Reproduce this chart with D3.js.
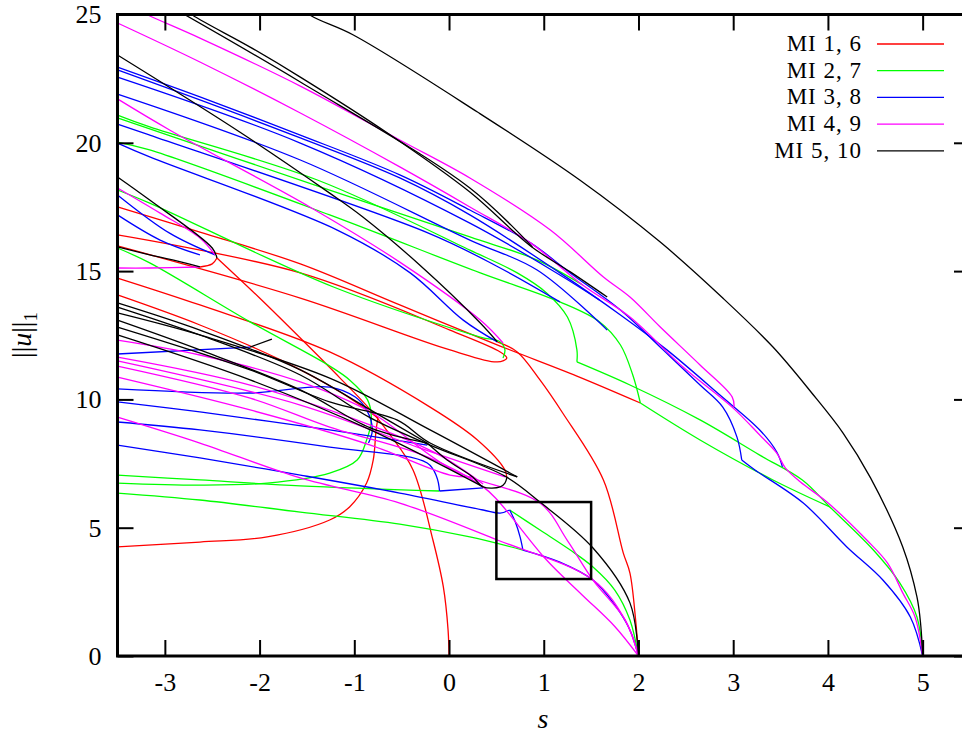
<!DOCTYPE html>
<html>
<head>
<meta charset="utf-8">
<script src="https://cdn.jsdelivr.net/npm/d3@7"></script>
<style>
  body { margin: 0; background: #fff; }
  svg text { font-family: "Liberation Serif", "DejaVu Serif", serif; }
</style>
</head>
<body>
<svg width="962" height="733"></svg>
<script>
// axis setup
const sDomain = [-3.5, 5.5];
const nDomain = [0, 25];
const xTicks = [-3, -2, -1, 0, 1, 2, 3, 4, 5];
const yTicks = [0, 5, 10, 15, 20, 25];
const legendLabels = ["MI 1, 6", "MI 2, 7", "MI 3, 8", "MI 4, 9", "MI 5, 10"];
const miColors = ["#ff0000", "#00ff00", "#0000ff", "#ff00ff", "#000000"];
const zoomBox = [[0.5, 3], [1.5, 6]];

// ---- MI 1, 6 (red) ----
const r1 = [[-2.45,15.51],[-2.00,13.95],[-1.57,12.39],[-1.15,10.83],[-0.83,9.59],[-0.62,8.61],[-0.38,7.25],[-0.17,4.52],[-0.06,2.69],[-0.01,1.01],[0,0]];
const rFold = [[-2.45,15.51],[-2.50,15.28],[-2.63,15.16]];
const r2 = [[-3.5,17.50],[-2.63,16.52],[-1.57,15.28],[-0.52,13.68],[0.54,12.08],[1.35,10.91],[2.02,9.86]];
const r3 = [[-3.5,16.41],[-1.57,14.93],[0.01,12.70],[0.54,11.85],[0.61,11.61],[0.51,11.46],[0.01,11.93],[-1.57,13.95],[-3.5,15.98]];
const r4 = [[-3.5,14.73],[-2.63,13.68],[-1.26,11.85],[-0.20,9.70],[0.30,8.42],[0.59,7.25],[0.61,6.94]];
const r7 = [[-3.5,14.07],[-2.63,12.90],[-1.78,11.54],[-1.15,10.29],[-0.75,9.28]];
const c1 = [[-3.5,4.25],[-2.63,4.44],[-1.92,4.64],[-1.26,5.30],[-1.05,5.81],[-0.87,6.74],[-0.80,7.64],[-0.77,8.81],[-0.75,9.28]];
const rS2 = [[0.51,12.24],[0.72,11.85],[0.96,10.76],[1.20,9.47],[1.63,6.86],[1.84,4.01],[1.91,3.23],[1.97,1.40],[2.0,0]];

// ---- MI 2, 7 (green) ----
const g1 = [[-3.5,6.35],[-2.63,6.08],[-1.57,5.61],[-0.52,5.14],[0.22,4.64],[0.78,4.13]];
const g2 = [[0.64,5.69],[0.96,4.91],[1.28,4.13],[1.52,3.47],[1.75,2.57],[1.91,1.40],[2.0,0]];
const g3 = [[-3.5,6.74],[-2.63,6.66],[-1.92,6.74],[-1.26,7.13],[-0.97,7.64],[-0.87,8.42],[-0.82,9.20],[-0.86,9.98],[-1.05,10.76],[-1.26,11.30],[-2.10,13.02],[-3.16,15.32],[-3.5,15.90]];
const g4 = [[-3.5,7.05],[-2.63,6.86],[-1.57,6.63],[-0.10,6.43]];
const g5 = [[-3.5,21.08],[-3.16,20.62],[-1.39,18.55],[0.22,15.82],[0.72,14.93],[1.03,14.15],[1.25,13.21],[1.35,11.93],[1.35,11.46]];
const g5b = [[1.35,11.46],[1.91,10.56],[2.65,9.20],[3.28,7.83],[3.73,6.86],[4.02,5.81],[4.48,4.13],[4.76,2.84],[4.94,1.52],[5.0,0]];
const g6 = [[-3.5,20.97],[-1.26,18.16],[0.22,16.33],[0.93,15.43],[1.41,14.46]];
const g7 = [[-3.5,20.03],[-3.16,19.72],[-1.26,17.19],[0.33,14.93],[1.17,13.80],[1.59,13.02],[1.81,12.12],[1.94,10.95],[2.02,9.86]];
const g7b = [[2.02,9.86],[2.65,8.42],[3.42,6.86],[4.02,5.81]];
const g8 = [[-3.5,18.16],[-3.16,17.65],[-1.22,14.38],[0.33,12.43],[0.54,12.24],[0.59,11.93],[0.57,11.61]];

// ---- MI 3, 8 (blue) ----
const b1 = [[-3.5,22.95],[-2.63,21.79],[-1.57,20.30],[-0.52,18.75],[0.22,17.38],[0.86,16.10],[1.28,14.93],[1.81,13.48],[2.26,11.93],[2.65,10.56],[2.89,9.70],[3.04,8.53],[3.09,7.64]];
const bS5 = [[3.09,7.64],[3.23,7.25],[3.74,5.96],[4.20,4.25],[4.58,2.96],[4.87,1.52],[5.0,0]];
const b2 = [[-3.5,22.84],[-2.63,21.67],[-1.57,20.19],[-0.52,18.63],[0.22,17.19],[1.17,14.93],[1.81,13.29],[2.30,11.93],[2.86,10.17],[3.28,8.81],[3.46,7.95],[3.52,7.37]];
const b3 = [[-3.5,22.56],[-1.57,19.99],[0.22,16.87],[1.17,14.85],[1.59,13.87]];
const b4 = [[-3.5,21.90],[-1.57,19.33],[0.22,16.21],[0.93,15.04],[1.67,12.70]];
const b5 = [[-3.5,20.73],[-3.16,20.30],[-0.23,16.50],[0.50,15.20],[1.17,13.80]];
const bF2 = [[-3.5,19.99],[-3.16,19.45],[-1.18,16.60],[-0.41,14.93],[0.15,13.09],[0.51,12.24]];
const b11 = [[-3.5,17.97],[-2.95,16.48],[-2.47,15.63]];
const b12 = [[-3.5,17.19],[-3.05,16.21],[-2.63,15.63]];
const b6 = [[-3.5,11.77],[-2.10,12.04]];
const b7 = [[-3.5,10.41],[-2.10,10.25],[-1.26,10.48],[-0.99,10.09],[-0.87,9.59],[-0.81,8.81],[-0.85,8.30]];
const b8 = [[-3.5,9.90],[-2.63,9.51],[-1.26,8.81],[-0.23,8.22]];
const b10 = [[-3.5,9.12],[-2.63,8.81],[-1.26,8.14],[-0.23,7.52],[-0.13,6.98],[-0.10,6.43]];
const bG4 = [[-0.10,6.43],[0.36,6.55]];
const bThick = [[-3.5,8.22],[-2.63,7.72],[-1.57,7.05],[-0.52,6.35],[0.36,5.69],[0.54,5.57],[0.64,5.69]];
const bFold = [[0.64,5.69],[0.70,5.22],[0.75,4.64],[0.78,4.13]];
const bLow = [[0.78,4.13],[1.17,3.66],[1.52,2.96],[1.75,1.99],[1.91,1.01],[2.0,0]];

// ---- MI 4, 9 (magenta) ----
const m1 = [[-3.35,25.3],[-3.18,24.98],[-2.63,24.08],[-1.57,22.21],[-0.52,20.11],[0.22,18.63],[1.07,16.60],[1.63,14.77],[1.91,13.99],[2.23,12.82],[2.65,11.34],[2.99,10.09],[3.01,9.70]];
const m2 = [[-3.5,24.67],[-2.63,23.15],[-1.57,21.16],[-0.52,19.06],[0.22,17.50],[0.86,16.10],[1.41,14.46],[1.91,13.21],[2.47,11.26],[3.0,9.66],[3.28,8.61],[3.46,7.91],[3.55,7.33],[3.71,6.78],[3.99,6.00],[4.41,4.52],[4.63,3.62],[4.79,2.46],[4.92,1.52],[5.0,0]];
const m3 = [[-3.5,21.71],[-2.95,20.50],[-1.47,17.50],[-0.52,15.35],[0.33,13.09],[0.57,12.20]];
const m4 = [[-3.5,18.24],[-3.05,17.26],[-2.63,16.29],[-2.47,15.63]];
const mFold = [[-2.63,15.16],[-3.16,15.12],[-3.5,15.12]];
const m5 = [[-3.5,12.31],[-2.63,11.73],[-1.57,10.68],[-0.83,9.51],[0.04,7.25],[0.96,5.96],[1.25,4.5],[1.52,2.96],[1.86,1.40],[2.0,0]];
const m6 = [[-3.5,11.65],[-2.10,10.56],[-0.83,9.00],[-0.10,7.83],[0.36,6.70]];
const m7 = [[-3.5,11.30],[-2.10,10.05],[-1.26,8.92],[-0.23,7.76],[0.36,6.59],[0.51,6.08],[1.03,3.74],[1.40,2.40],[1.75,1.15],[2.0,0]];
const m8 = [[-3.5,10.87],[-2.10,9.59],[-0.83,8.22],[0.01,7.05],[0.25,6.98]];
const m9 = [[-3.5,9.31],[-2.63,8.30],[-1.57,6.94],[-0.52,5.96],[0.51,4.52],[1.52,2.96],[1.86,1.40],[2.0,0]];
const m10 = [[-3.5,11.50],[-1.57,9.78],[-0.31,8.11],[0.59,6.98]];

// ---- MI 5, 10 (black) ----
const k1 = [[5.0,0],[4.98,1.2],[4.94,2.30],[4.79,4.25],[4.45,6.94],[4.16,8.69],[3.83,10.25],[3.42,12.04],[2.89,13.95],[2.23,16.13],[1.38,18.55],[0.30,21.20],[-1.01,24.20],[-1.47,24.98],[-1.75,25.8]];
const k2 = [[-2.9,25.5],[-2.71,24.98],[-2.10,23.73],[-1.57,22.56],[-0.65,20.38],[0.22,18.08],[0.86,15.98],[1.28,14.97],[1.67,13.99]];
const k2b = [[-2.84,25.10],[-1.57,22.37],[0.22,18.24],[0.88,15.94]];
const k3 = [[-3.5,23.42],[-2.21,20.42],[-1.26,18.04],[-0.91,17.11],[-0.31,15.24],[0.33,12.98],[0.51,12.24]];
const k4 = [[-3.5,18.67],[-3.16,17.77],[-2.50,15.90],[-2.45,15.51]];
const k5 = [[-3.5,15.94],[-3.16,15.63],[-2.79,15.32],[-2.63,15.16]];
const k6 = [[-3.5,13.76],[-2.63,12.70],[-1.57,11.15],[-0.83,9.59],[-0.23,8.30]];
const k7 = [[-3.5,13.60],[-2.63,12.51],[-1.57,10.95],[-0.83,9.28],[-0.20,8.22],[0.59,7.01],[0.96,6.00],[1.52,4.21],[1.91,2.07],[2.0,0]];
const k8 = [[-3.5,13.09],[-2.63,11.93],[-1.57,10.37],[-0.83,8.89],[-0.23,8.30]];
const k9 = [[-3.5,12.82],[-2.10,11.15],[-1.26,9.90],[-0.55,9.20],[-0.20,8.30],[0.72,6.98]];
const k10 = [[-3.5,13.37],[-2.63,12.51],[-1.26,10.83],[-0.20,8.81],[0.72,6.98]];
const k11 = [[-3.5,12.51],[-2.10,10.76],[-0.83,8.81],[0.36,6.59]];
const kHook = [[-0.23,8.30],[-0.02,7.64],[0.25,6.98],[0.36,6.59],[0.54,6.59],[0.59,6.74],[0.61,6.94]];
const k12 = [[-2.10,12.04],[-1.87,12.35]];

const mi1 = [r1, rFold, r2, r3, r4, r7, c1, rS2];
const mi2 = [g1, g2, g3, g4, g5, g5b, g6, g7, g7b, g8];
const mi3 = [b1, bS5, b2, b3, b4, b5, bF2, b11, b12, b6, b7, b8, b10, bG4, bThick, bFold, bLow];
const mi4 = [m1, m2, m3, m4, mFold, m5, m6, m7, m8, m9, m10];
const mi5 = [k1, k2, k2b, k3, k4, k5, k6, k7, k8, k9, k10, k11, kHook, k12];
const groups = [mi1, mi2, mi3, mi4, mi5];

const svg = d3.select("svg");
const plotL = 117.5, plotR = 970, plotT = 14.5, plotB = 656;

const x = d3.scaleLinear().domain(sDomain).range([plotL, plotR]);
const y = d3.scaleLinear().domain(nDomain).range([plotB, plotT]);

svg.append("clipPath").attr("id", "plotclip")
  .append("rect")
  .attr("x", plotL).attr("y", plotT)
  .attr("width", plotR - plotL).attr("height", plotB - plotT);

const line = d3.line()
  .x(d => x(d[0]))
  .y(d => y(d[1]))
  .curve(d3.curveCatmullRom.alpha(0.5));

const plot = svg.append("g").attr("clip-path", "url(#plotclip)");
groups.forEach((g, i) => {
  plot.append("g")
    .selectAll("path")
    .data(g)
    .enter()
    .append("path")
    .attr("d", line)
    .style("fill", "none")
    .style("stroke", miColors[i])
    .style("stroke-width", 1.3);
});

// inset box
svg.append("rect")
  .attr("x", x(zoomBox[0][0]))
  .attr("y", y(zoomBox[1][1]))
  .attr("width", x(zoomBox[1][0]) - x(zoomBox[0][0]))
  .attr("height", y(zoomBox[0][1]) - y(zoomBox[1][1]))
  .style("fill", "none")
  .style("stroke", "#000")
  .style("stroke-width", 2.5);

// axes, ticks pointing inward
function styleAxis(g) {
  g.select(".domain").remove();
  g.selectAll(".tick line").style("stroke", "#000").style("stroke-width", 2);
  g.selectAll(".tick text").style("font-size", "26px").style("fill", "#000")
    .style("font-family", '"Liberation Serif", serif');
}

svg.append("g")
  .attr("transform", "translate(0," + plotB + ")")
  .call(d3.axisBottom(x).tickValues(xTicks).tickFormat(d3.format("d"))
    .tickSizeInner(-16).tickSizeOuter(0).tickPadding(17))
  .call(styleAxis);

svg.append("g")
  .attr("transform", "translate(" + plotL + ",0)")
  .call(d3.axisLeft(y).tickValues(yTicks).tickFormat(d3.format("d"))
    .tickSizeInner(-16).tickSizeOuter(0).tickPadding(16))
  .call(styleAxis);

svg.append("g")
  .attr("transform", "translate(0," + plotT + ")")
  .call(d3.axisTop(x).tickValues(xTicks).tickFormat("")
    .tickSizeInner(-16).tickSizeOuter(0))
  .call(styleAxis);

svg.append("g")
  .attr("transform", "translate(" + plotR + ",0)")
  .call(d3.axisRight(y).tickValues(yTicks).tickFormat("")
    .tickSizeInner(-16).tickSizeOuter(0))
  .call(styleAxis);

// minus signs as plain hyphens like the original
svg.selectAll(".tick text").text(function () { return d3.select(this).text().replace("\u2212", "-"); });

svg.append("rect")
  .attr("x", plotL).attr("y", plotT)
  .attr("width", plotR - plotL).attr("height", plotB - plotT)
  .style("fill", "none")
  .style("stroke", "#000")
  .style("stroke-width", 3);

// axis labels
svg.append("text")
  .attr("x", 543).attr("y", 728)
  .attr("text-anchor", "middle")
  .style("font-size", "28px")
  .style("font-style", "italic")
  .text("s");

const ylab = svg.append("text")
  .attr("transform", "translate(31,335) rotate(-90)")
  .attr("text-anchor", "middle")
  .style("font-size", "28px");
ylab.append("tspan").text("||");
ylab.append("tspan").style("font-style", "italic").text("u");
ylab.append("tspan").text("||");
ylab.append("tspan").attr("dy", 6).style("font-size", "19px").text("1");

// legend
const legend = svg.append("g");
legendLabels.forEach((lab, i) => {
  const yy = 44 + i * 26.7;
  legend.append("text")
    .attr("x", 862).attr("y", yy + 7)
    .attr("text-anchor", "end")
    .style("font-size", "23px")
    .style("letter-spacing", "1px")
    .text(lab);
  legend.append("line")
    .attr("x1", 877).attr("x2", 944)
    .attr("y1", yy).attr("y2", yy)
    .style("stroke", miColors[i])
    .style("stroke-width", 1.3);
});
</script>
</body>
</html>
